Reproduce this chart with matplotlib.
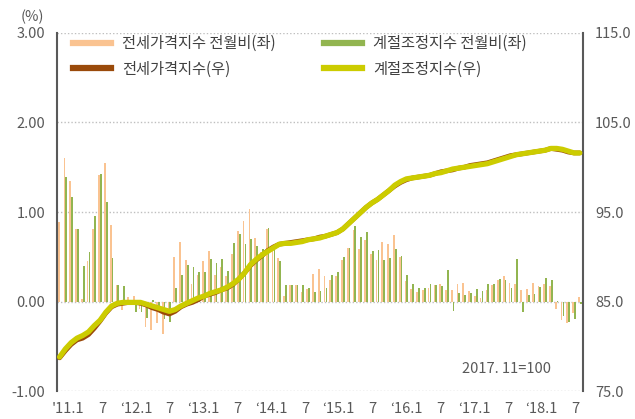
import numpy as np
import matplotlib
matplotlib.use("Agg")
import matplotlib.pyplot as plt
from matplotlib.lines import Line2D

plt.rcParams['font.family'] = ['Noto Sans CJK KR', 'DejaVu Sans']

# -- data (monthly, 2011.1 ~ 2018.7) -----------------------------------------
mom_raw = [0.89, 1.60, 1.35, 0.81, 0.03, 0.45, 0.81, 1.41, 1.55, 0.86, 0.18, -0.10,
           0.05, 0.06, -0.08, -0.28, -0.32, -0.24, -0.36, -0.15, 0.50, 0.67, 0.46, 0.20,
           0.30, 0.45, 0.56, 0.30, 0.38, 0.28, 0.53, 0.79, 0.90, 1.03, 0.71, 0.55,
           0.81, 0.63, 0.49, 0.06, 0.18, 0.18, 0.11, 0.14, 0.31, 0.36, 0.28, 0.24,
           0.28, 0.46, 0.60, 0.80, 0.59, 0.69, 0.53, 0.46, 0.67, 0.64, 0.74, 0.50,
           0.23, 0.14, 0.11, 0.13, 0.15, 0.18, 0.19, 0.13, 0.13, 0.20, 0.21, 0.12,
           0.06, 0.04, 0.13, 0.18, 0.24, 0.29, 0.21, 0.20, 0.13, 0.14, 0.21, 0.17,
           0.20, 0.17, -0.08, -0.21, -0.24, -0.13, 0.05]
mom_sa = [np.nan, 1.39, 1.17, 0.81, 0.40, 0.55, 0.96, 1.43, 1.11, 0.49, 0.18, 0.17,
          0.02, -0.12, -0.12, -0.18, 0.02, -0.06, -0.19, -0.23, 0.15, 0.30, 0.41, 0.39,
          0.33, 0.33, 0.47, 0.43, 0.48, 0.34, 0.65, 0.75, 0.64, 0.70, 0.62, 0.59,
          0.82, 0.62, 0.45, 0.18, 0.18, 0.18, 0.18, 0.15, 0.11, 0.12, 0.15, 0.30,
          0.33, 0.50, 0.60, 0.84, 0.72, 0.78, 0.56, 0.58, 0.46, 0.49, 0.59, 0.51,
          0.30, 0.20, 0.15, 0.15, 0.20, 0.18, 0.17, 0.35, -0.11, 0.10, 0.07, 0.10,
          0.14, 0.12, 0.20, 0.20, 0.25, 0.24, 0.15, 0.48, -0.12, 0.07, 0.08, 0.16,
          0.26, 0.24, 0.01, -0.16, -0.23, -0.20, -0.03]
idx_raw = [78.7, 79.5, 80.2, 80.7, 80.9, 81.3, 82.0, 82.8, 83.7, 84.4, 84.7, 84.8,
           84.9, 84.9, 84.8, 84.6, 84.3, 84.1, 83.8, 83.6, 83.9, 84.4, 84.7, 84.9,
           85.2, 85.6, 85.8, 86.0, 86.3, 86.5, 86.9, 87.5, 88.2, 89.0, 89.6, 90.1,
           90.7, 91.1, 91.4, 91.5, 91.6, 91.7, 91.8, 91.9, 92.0, 92.2, 92.3, 92.5,
           92.7, 93.1, 93.7, 94.3, 94.9, 95.5, 96.0, 96.4, 96.9, 97.4, 97.9, 98.3,
           98.6, 98.8, 98.9, 99.0, 99.1, 99.3, 99.5, 99.6, 99.7, 99.9, 100.0, 100.2,
           100.3, 100.4, 100.5, 100.7, 100.9, 101.1, 101.3, 101.4, 101.5, 101.6, 101.7, 101.8,
           101.9, 102.1, 102.0, 101.9, 101.7, 101.6, 101.6]
idx_sa = [78.8, 79.7, 80.4, 80.9, 81.2, 81.6, 82.3, 82.9, 83.8, 84.5, 84.8, 84.9,
          84.9, 84.9, 84.9, 84.7, 84.5, 84.3, 84.1, 83.9, 84.1, 84.5, 84.8, 85.1,
          85.4, 85.6, 85.9, 86.1, 86.3, 86.6, 87.0, 87.5, 88.2, 89.1, 89.7, 90.2,
          90.6, 91.0, 91.4, 91.5, 91.5, 91.6, 91.7, 91.9, 92.0, 92.1, 92.3, 92.5,
          92.7, 93.1, 93.7, 94.3, 94.9, 95.5, 96.0, 96.4, 96.9, 97.4, 98.0, 98.4,
          98.7, 98.8, 98.9, 99.0, 99.1, 99.3, 99.4, 99.6, 99.8, 99.9, 100.0, 100.1,
          100.2, 100.3, 100.4, 100.6, 100.8, 101.0, 101.2, 101.4, 101.5, 101.6, 101.7, 101.8,
          101.9, 102.1, 102.1, 102.0, 101.8, 101.6, 101.6]

tick_months = [0, 6, 12, 18, 24, 30, 36, 42, 48, 54, 60, 66, 72, 78, 84, 90]
tick_labels = ["'11.1", "7", "\u201812.1", "7", "\u201813.1", "7", "\u201814.1", "7",
               "\u201815.1", "7", "\u201816.1", "7", "\u201817.1", "7", "\u201818.1", "7"]

labels = ['전세가격지수 전월비(좌)', '전세가격지수(우)', '계절조정지수 전월비(좌)', '계절조정지수(우)']

c_raw_bar = '#FAC391'
c_sa_bar = '#92B550'
c_raw_line = '#9A4A0A'
c_sa_line = '#CCCC00'
grey = '#595959'

# -- plot ---------------------------------------------------------------------
fig = plt.figure(figsize=(6.35, 4.19), dpi=100)
ax = fig.add_axes([56.7/635, 28/419, 526/635, 358/419])
ax2 = ax.twinx()

x = np.arange(len(mom_raw))
w = 0.30
ax.bar(x - 0.16, mom_raw, width=w, color=c_raw_bar, zorder=2)
ax.bar(x + 0.16, mom_sa, width=w, color=c_sa_bar, zorder=2)

ax2.plot(x, idx_raw, color=c_raw_line, lw=3.4, solid_capstyle='round', zorder=3)
ax2.plot(x, idx_sa, color=c_sa_line, lw=3.8, solid_capstyle='round', zorder=4)

ax.set_xlim(-0.5, len(mom_raw) - 0.5)
ax.set_ylim(-1, 3)
ax.set_yticks([-1, 0, 1, 2, 3])
ax.set_yticklabels([f"{v:.2f}" for v in [-1, 0, 1, 2, 3]])
ax2.set_ylim(75, 115)
ax2.set_yticks([75, 85, 95, 105, 115])
ax2.set_yticklabels([f"{v:.1f}" for v in [75, 85, 95, 105, 115]])

ax.set_xticks([m * 0.975 + 1.5 for m in tick_months])
ax.set_xticklabels(tick_labels)

ax.grid(axis='y', color='#BFBFBF', ls=(0, (1, 1.5)), lw=1.0, zorder=0)
ax.set_axisbelow(True)

for a in (ax, ax2):
    for s in ('top', 'bottom'):
        a.spines[s].set_visible(False)
    a.spines['left'].set_color(grey)
    a.spines['right'].set_color(grey)
    a.spines['left'].set_linewidth(1.5)
    a.spines['right'].set_linewidth(1.5)
ax.spines['right'].set_visible(False)
ax2.spines['left'].set_visible(False)

ax.tick_params(axis='both', length=0, labelsize=10.5, colors=grey)
ax.tick_params(axis='x', pad=8)
ax.tick_params(axis='y', pad=8)
ax2.tick_params(axis='y', length=0, labelsize=10.5, colors=grey, pad=9)

fig.text(32/635, 1 - 17/419, '(%)', ha='center', va='center', fontsize=10.5, color=grey)
fig.text(551/635, 1 - 369/419, '2017. 11=100', ha='right', va='center', fontsize=10.5, color=grey)

handles = [Line2D([], [], color=c_raw_bar, lw=4.5),
           Line2D([], [], color=c_raw_line, lw=4.5),
           Line2D([], [], color=c_sa_bar, lw=4.5),
           Line2D([], [], color=c_sa_line, lw=4.5)]
fig.legend(handles, labels, ncol=2, loc='upper left',
           bbox_to_anchor=(73/635, 1 - 35/419), frameon=False,
           fontsize=11, handlelength=2.5, handletextpad=0.72,
           columnspacing=3.15, labelspacing=0.57, borderpad=0, borderaxespad=0,
           labelcolor='#404040')

fig.savefig('out.png', dpi=100)
